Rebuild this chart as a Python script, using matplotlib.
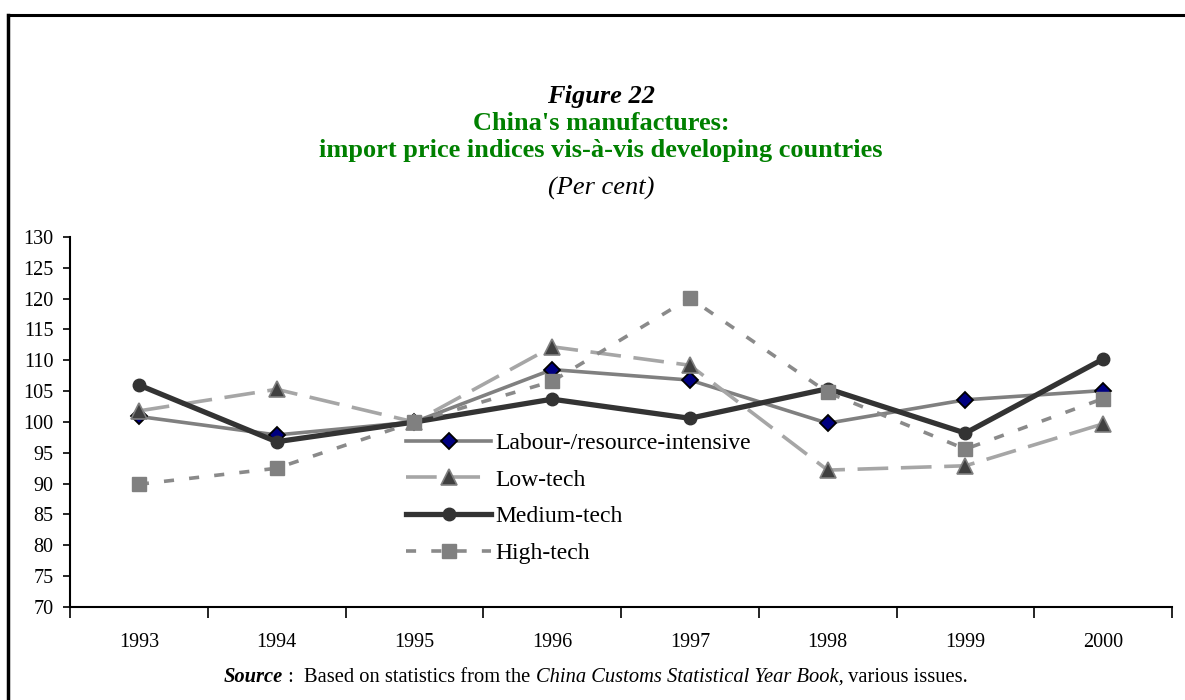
import matplotlib
matplotlib.use("Agg")
import matplotlib.pyplot as plt
from matplotlib.lines import Line2D
from matplotlib.text import Annotation

plt.rcParams['font.family'] = ['Liberation Serif', 'DejaVu Serif']

# data
years = ['1993', '1994', '1995', '1996', '1997', '1998', '1999', '2000']
labour = [100.9, 97.9, 100.0, 108.5, 106.8, 99.8, 103.6, 105.1]
low_tech = [101.8, 105.3, 100.0, 112.2, 109.2, 92.2, 92.9, 99.7]
medium_tech = [106.0, 96.8, 100.0, 103.7, 100.6, 105.4, 98.2, 110.2]
high_tech = [89.9, 92.5, 100.0, 106.6, 120.1, 104.8, 95.6, 103.8]
series_names = ['Labour-/resource-intensive', 'Low-tech', 'Medium-tech', 'High-tech']

W, H = 1185, 700
fig = plt.figure(figsize=(W / 100, H / 100), dpi=100)
ax = fig.add_axes([70 / W, 1 - 607 / H, (1172 - 70) / W, (607 - 237) / H])

x = list(range(len(years)))

ax.plot(x, labour, color='#808080', lw=2.6, marker='D', ms=8.5,
        mfc='#000080', mec='black', mew=1.3, label=series_names[0])
ax.plot(x, low_tech, color='#a6a6a6', lw=2.6, dashes=(8.5, 3.5), marker='^', ms=11,
        mfc='#404040', mec='#808080', mew=1.2, label=series_names[1])
ax.plot(x, medium_tech, color='#333333', lw=3.8, marker='o', ms=9,
        mfc='#333333', mec='#333333', label=series_names[2])
ax.plot(x, high_tech, color='#8a8a8a', lw=2.6, dashes=(2.8, 4.2), marker='s', ms=10.5,
        mfc='#808080', mec='#808080', label=series_names[3])

ax.set_xlim(-0.5, len(years) - 0.5)
ax.set_ylim(70, 130)
ax.set_yticks(range(70, 131, 5))
ax.set_xticks(x)
ax.set_xticklabels(years)
ax.set_xticks([i - 0.5 for i in range(len(years) + 1)], minor=True)
ax.tick_params(axis='x', which='major', length=0, pad=19, labelsize=14.5)
ax.tick_params(axis='x', which='minor', length=8, width=1.2, direction='out')
ax.tick_params(axis='y', length=5, width=1.2, direction='out', pad=7, labelsize=14.5)

for s in ['top', 'right']:
    ax.spines[s].set_visible(False)
for s in ['left', 'bottom']:
    ax.spines[s].set_linewidth(1.5)

ax.legend(loc='upper left', bbox_to_anchor=(0.305, 0.472), frameon=False,
          fontsize=17, handlelength=3.6, handletextpad=0.2, labelspacing=0.64,
          borderpad=0, borderaxespad=0)

# titles
cx = 601 / W
fig.text(cx, 1 - 97 / H, 'Figure 22', ha='center', va='center',
         fontsize=19, fontweight='bold', fontstyle='italic')
fig.text(cx, 1 - 124 / H, "China's manufactures:", ha='center', va='center',
         fontsize=19, fontweight='bold', color='#008000')
fig.text(cx, 1 - 151 / H, 'import price indices vis-à-vis developing countries',
         ha='center', va='center', fontsize=19, fontweight='bold', color='#008000')
fig.text(cx, 1 - 188 / H, '(Per cent)', ha='center', va='center',
         fontsize=19, fontstyle='italic')

# source line built from pieces, centred afterwards
fs = 14.8
t0 = fig.text(0.2, 1 - 677 / H, 'Source', ha='left', va='center',
              fontsize=fs, fontweight='bold', fontstyle='italic')
pieces = [(' :  Based on statistics from the ', 'normal'),
          ('China Customs Statistical Year Book,', 'italic'),
          (' various issues.', 'normal')]
prev = t0
for txt, style in pieces:
    prev = fig.add_artist(Annotation(txt, xy=(1, 0), xycoords=prev, ha='left', va='bottom',
                                     fontsize=fs, fontstyle=style, annotation_clip=False))

fig.canvas.draw()
r = fig.canvas.get_renderer()
left = t0.get_window_extent(r).x0
right = prev.get_window_extent(r).x1
width = right - left
t0.set_x((596 - width / 2) / W)

# frame lines
fig.add_artist(Line2D([8 / W, 1.0], [1 - 15 / H, 1 - 15 / H], color='black', lw=2.2,
                      transform=fig.transFigure))
fig.add_artist(Line2D([8 / W, 8 / W], [0, 1 - 15 / H], color='black', lw=2.5,
                      transform=fig.transFigure))

fig.savefig('out.png', dpi=100)
